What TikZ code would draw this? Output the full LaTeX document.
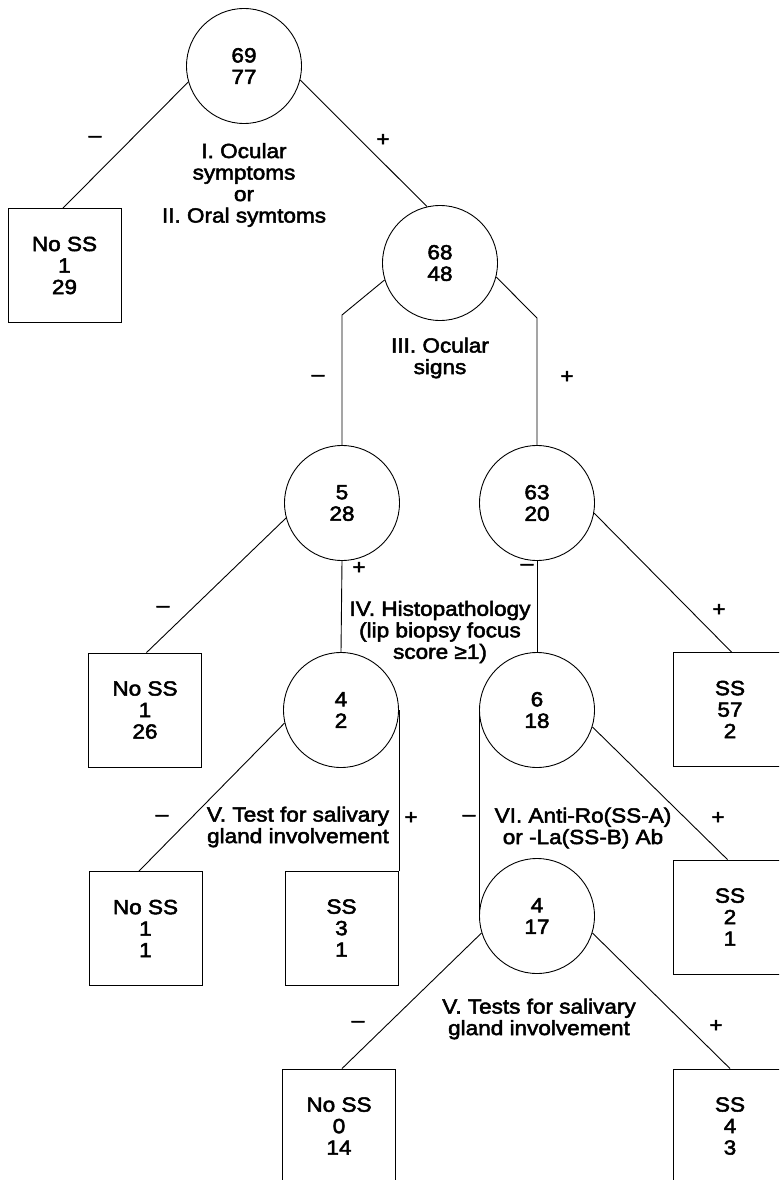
\documentclass[tikz,border=0pt]{standalone}
\usepackage{fontspec}
\setmainfont{Liberation Sans}[FakeStretch=1.1,FakeBold=2.5]
\begin{document}
\begin{tikzpicture}[x=1pt,y=-1pt,
  font=\fontsize{20.5}{21.5}\selectfont,
  circ/.style={circle,draw,line width=0.9pt,minimum size=115pt,inner sep=0pt,align=center},
  leaf/.style={rectangle,draw,line width=0.9pt,minimum width=113pt,minimum height=114pt,inner sep=0pt,align=center},
  lbl/.style={inner sep=0pt,align=center},
  sgn/.style={inner sep=0pt},
  conn/.style={line width=0.9pt}]
\useasboundingbox (0,0) rectangle (779,1180);
\clip (0,0) rectangle (779,1180);
% nodes
\node[circ] (c1) at (244,66) {69\\77};
\node[leaf] (b1) at (64.5,265.5) {No SS\\1\\29};
\node[circ] (c2) at (440,263) {68\\48};
\node[circ] (c3) at (342,503) {5\\28};
\node[circ] (c4) at (537,503) {63\\20};
\node[leaf] (b2) at (145,710) {No SS\\1\\26};
\node[circ] (c5) at (341,710) {4\\2};
\node[circ] (c6) at (537,710) {6\\18};
\node[leaf] (b3) at (730,709.5) {SS\\57\\2};
\node[leaf] (b4) at (145.5,928.5) {No SS\\1\\1};
\node[leaf] (b5) at (341.5,928) {SS\\3\\1};
\node[circ] (c7) at (537,916) {4\\17};
\node[leaf] (b6) at (730,917) {SS\\2\\1};
\node[leaf] (b7) at (339,1126) {No SS\\0\\14};
\node[leaf] (b8) at (730,1126) {SS\\4\\3};
% bend points
\coordinate (k1) at (342,315);
\coordinate (k2) at (537,318);
% connectors
\draw[conn] (c1.196) -- ([xshift=-1.5pt]b1.north);
\draw[conn] (c1.-14) -- (c2.103);
\draw[conn] (c2.197) -- (k1) -- (c3.north);
\draw[conn] (c2.-14) -- (k2) -- (c4.north);
\draw[conn] (c3.195.5) -- ([xshift=1.5pt]b2.north);
\draw[conn] (c3.south) -- (c5.north);
\draw[conn] (c4.south) -- (c6.north);
\draw[conn] (c4.-10) -- ([xshift=1.5pt]b3.north);
\draw[conn] (c5.193) -- ([xshift=-6.5pt]b4.north);
\draw[conn] (c5.east) -- (c5.east |- b5.north);
\draw[conn] (c6.west) -- (c7.west);
\draw[conn] (c6.-17) -- ([xshift=-2.5pt]b6.north);
\draw[conn] (c7.197) -- ([xshift=3pt]b7.north);
\draw[conn] (c7.-17) -- (b8.north);
% labels
\node[sgn] (m1) at (95,139) {--};
\node[sgn] (p1) at (383,140) {+};
\node[lbl] (t1) at (244,185) {I. Ocular\\symptoms\\or\\II. Oral symtoms};
\node[lbl] (t2) at (440,358) {III. Ocular\\signs};
\node[sgn] (m2) at (318,378) {--};
\node[sgn] (p2) at (567,377) {+};
\node[sgn] (m3) at (163,609) {--};
\node[sgn] (p3) at (359,568) {+};
\node[lbl] (t3) at (440,632) {IV. Histopathology\\(lip biopsy focus\\score ≥1)};
\node[sgn] (m4) at (527,567) {--};
\node[sgn] (p4) at (719,610) {+};
\node[sgn] (m5) at (162,818) {--};
\node[lbl] (t4) at (298,827) {V. Test for salivary\\gland involvement};
\node[sgn] (p5) at (411,818) {+};
\node[sgn] (m6) at (469,818) {--};
\node[lbl] (t5) at (583,828) {VI. Anti-Ro(SS-A)\\or -La(SS-B) Ab};
\node[sgn] (p6) at (718,818) {+};
\node[sgn] (m7) at (358,1024) {--};
\node[lbl] (t6) at (539,1019) {V. Tests for salivary\\gland involvement};
\node[sgn] (p7) at (716,1026) {+};
\end{tikzpicture}
\end{document}
